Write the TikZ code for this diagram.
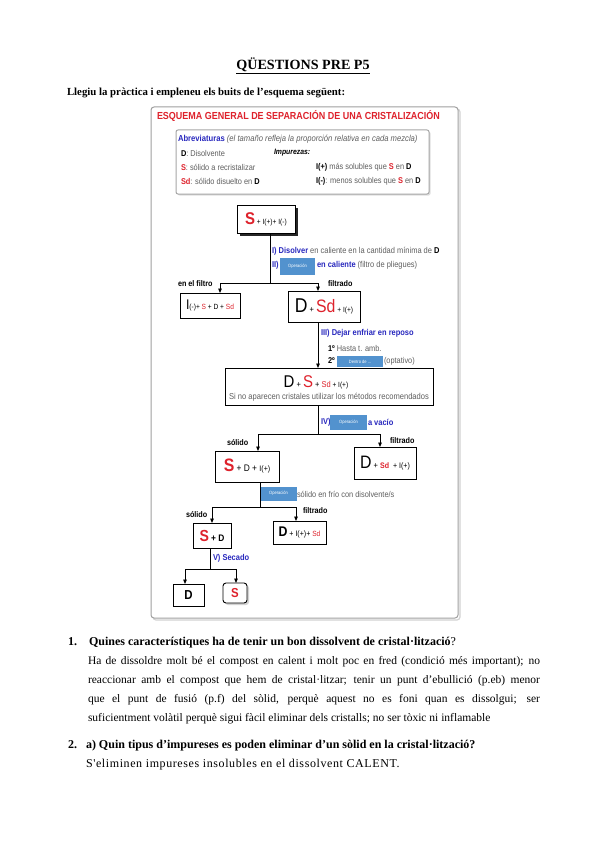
\documentclass[tikz,border=0pt]{standalone}
\usepackage{fontspec}
\setmainfont{Liberation Serif}
\newfontfamily\nar[FakeStretch=0.88]{Liberation Sans}
\newfontfamily\spaced[LetterSpace=5]{Liberation Serif}
\usetikzlibrary{arrows.meta,shadows}
\definecolor{rd}{RGB}{222,34,44}
\definecolor{bl}{RGB}{40,40,190}
\definecolor{opb}{RGB}{82,146,206}
\definecolor{gy}{RGB}{95,95,95}
\begin{document}
\begin{tikzpicture}[x=1pt,y=-1pt,
  every node/.style={inner sep=0pt, outer sep=0pt},
  t/.style={font=\nar\fontsize{8.4}{9}\selectfont, anchor=west, text=gy},
  tb/.style={font=\nar\bfseries\fontsize{8.2}{9}\selectfont, anchor=west, text=black},
  tblue/.style={font=\nar\bfseries\fontsize{8.5}{9}\selectfont, anchor=west, text=bl},
  bx/.style={draw=black, line width=0.9pt, fill=white, font=\nar},
  ln/.style={draw=black, line width=0.9pt},
  arr/.style={draw=black, line width=0.9pt, -{Triangle[length=4.5pt,width=3.6pt]}},
  opbox/.style={fill=opb, text=white, font=\nar\fontsize{4.6}{5}\selectfont},
  body/.style={font=\fontsize{11.5}{19.3}\selectfont},
  bodyb/.style={font=\bfseries\fontsize{12}{19.3}\selectfont}]
\useasboundingbox[fill=white] (0,0) rectangle (599,848);

% header
\node[font=\bfseries\fontsize{14.1}{15}\selectfont] (title) at (303,66) {\underline{QÜESTIONS PRE P5}};
\node[anchor=base west, font=\bfseries\fontsize{10.8}{12}\selectfont] (intro) at (67,96) {Llegiu la pràctica i empleneu els buits de l'esquema següent:};

% outer frame
\draw[gray!35, line width=1.2pt, rounded corners=3pt] (153,109) rectangle (460,620);
\draw[gray!75, line width=1pt, rounded corners=3pt, fill=white] (151,107) rectangle (458,618);
\node[anchor=west, text=rd, font=\nar\bfseries\fontsize{10.2}{12}\selectfont] (etitle) at (157,116) {ESQUEMA GENERAL DE SEPARACIÓN DE UNA CRISTALIZACIÓN};

% abbreviation box
\node[draw=gray!70, line width=1pt, rounded corners=2pt, fill=white, minimum width=253pt, minimum height=64pt,
      drop shadow={shadow xshift=1.5pt, shadow yshift=-1.5pt, fill=gray!50}] (abr) at (302.5,162) {};
\node[anchor=west, font=\nar\fontsize{8.7}{9}\selectfont] (abr1) at (178,139) {\textcolor{bl}{\bfseries Abreviaturas} \textcolor{gy}{\itshape (el tamaño refleja la proporción relativa en cada mezcla)}};
\node[t] (abr2) at (181,153) {\textcolor{black}{\bfseries D}: Disolvente};
\node[anchor=west, font=\nar\bfseries\itshape\fontsize{7.8}{9}\selectfont] (abr3) at (274,153) {Impurezas:};
\node[t] (abr4) at (181,167) {\textcolor{rd}{\bfseries S}: sólido a recristalizar};
\node[t] (abr5) at (181,181) {\textcolor{rd}{\bfseries Sd}: sólido disuelto en \textcolor{black}{\bfseries D}};
\node[t] (abr6) at (316,167) {\textcolor{black}{\bfseries I(+)} más solubles que \textcolor{rd}{\bfseries S} en \textcolor{black}{\bfseries D}};
\node[t] (abr7) at (316,181) {\textcolor{black}{\bfseries I(-)}: menos solubles que \textcolor{rd}{\bfseries S} en \textcolor{black}{\bfseries D}};

% box 1
\node[bx, minimum width=58pt, minimum height=28pt, drop shadow={shadow xshift=2.6pt, shadow yshift=-2.6pt, fill=black, opacity=0.85}] (b1) at (266,219)
  {\textcolor{rd}{\bfseries\fontsize{17}{17}\selectfont S}\,{\fontsize{7.5}{8}\selectfont + I(+)+ I(-)}};

\coordinate (t1) at (270,283);
\coordinate (L1) at (220,283);
\coordinate (R1) at (318,283);
\draw[ln] (b1.south -| t1) -- (t1);
\draw[ln] (L1) -- (R1);

\node[tblue] (s1) at (272,251) {I) Disolver\textcolor{gy}{\mdseries\ en caliente en la cantidad mínima de} \textcolor{black}{D}};
\node[tblue] (s2) at (272,265) {II)};
\node[opbox, minimum width=35pt, minimum height=17pt] (op1) at (297.5,266) {Operación};
\node[tblue] (s2b) at (317,265) {en caliente \textcolor{gy}{\mdseries (filtro de pliegues)}};

\node[tb] (enf) at (178,284) {en el filtro};
\node[tb] (fil1) at (328,284) {filtrado};

\node[bx, minimum width=60pt, minimum height=25pt] (lb) at (210,305.5)
  {{\fontsize{14}{14}\selectfont I}{\fontsize{7.5}{8}\selectfont (-)+ \textcolor{rd}{S} + D + \textcolor{rd}{Sd}}};
\node[bx, minimum width=72pt, minimum height=31pt] (rb) at (324,306.5)
  {{\fontsize{20}{20}\selectfont D}{\fontsize{8.5}{8}\selectfont\ + }\textcolor{rd}{\fontsize{18}{18}\selectfont Sd}{\fontsize{7.5}{8}\selectfont\ + I(+)}};
\draw[arr] (L1) -- (lb.north -| L1);
\draw[arr] (R1) -- (rb.north -| R1);

\node[tblue] (s3) at (321,333) {III) Dejar enfriar en reposo};
\node[t, text=black] (s3a) at (328,348) {\bfseries 1º \mdseries\textcolor{gy}{Hasta t. amb.}};
\node[t, text=black] (s3b) at (328,361) {\bfseries 2º};
\node[opbox, minimum width=46pt, minimum height=11pt] (op2) at (360,361.5) {Dentro de ...};
\node[t] (s3c) at (384,361) {(optativo)};

\node[bx, minimum width=208pt, minimum height=37pt] (bb) at (329,386.5) {};
\node[font=\nar] (bbt1) at (316,382) {{\fontsize{17}{17}\selectfont D}{\fontsize{8.5}{8}\selectfont\ + }\textcolor{rd}{\fontsize{17}{17}\selectfont S}{\fontsize{8.5}{8}\selectfont\ + }\textcolor{rd}{\fontsize{8.5}{8}\selectfont Sd}{\fontsize{7.5}{8}\selectfont\ + I(+)}};
\node[font=\nar\fontsize{8.6}{9}\selectfont, text=gy] (bbt2) at (329,397.5) {Si no aparecen cristales utilizar los métodos recomendados};
\draw[arr] (rb.south -| R1) -- (bb.north -| R1);

\coordinate (t3) at (318,434);
\coordinate (L3) at (258,434);
\coordinate (R3) at (380,434);
\draw[ln] (bb.south -| t3) -- (t3);
\draw[ln] (L3) -- (R3);
\node[tblue] (s4) at (321,422) {IV)};
\node[opbox, minimum width=37pt, minimum height=15pt] (op3) at (348.5,422.5) {Operación};
\node[tblue] (s4b) at (368,422) {a vacío};
\node[tb] (sol1) at (227,443) {sólido};
\node[tb] (fil2) at (390,441) {filtrado};

\node[bx, minimum width=64pt, minimum height=31pt] (sb) at (247,466.5)
  {\textcolor{rd}{\bfseries\fontsize{18}{18}\selectfont S}{\fontsize{9.5}{9}\selectfont\ + D + }{\fontsize{8}{8}\selectfont I(+)}};
\node[bx, minimum width=62pt, minimum height=32pt] (fb) at (385,463)
  {{\fontsize{18}{18}\selectfont D}{\fontsize{8.5}{8}\selectfont\ + }\textcolor{rd}{\bfseries\fontsize{8}{8}\selectfont Sd}{\fontsize{8}{8}\selectfont\ \ + I(+)}};
\draw[arr] (L3) -- (sb.north -| L3);
\draw[arr] (R3) -- (fb.north -| R3);

\coordinate (t4) at (260,507);
\coordinate (L4) at (212,507);
\coordinate (R4) at (296,507);
\draw[ln] (sb.south -| t4) -- (t4);
\draw[ln] (L4) -- (R4);
\node[opbox, minimum width=36pt, minimum height=14pt] (op4) at (278.5,493.5) {Operación};
\node[t] (s5) at (297,494) {sólido en frío con disolvente/s};
\node[tb] (sol2) at (186,515) {sólido};
\node[tb] (fil3) at (303,511) {filtrado};

\node[bx, minimum width=38pt, minimum height=25pt] (sd) at (212,535.5)
  {\textcolor{rd}{\bfseries\fontsize{16}{16}\selectfont S}{\bfseries\fontsize{9.5}{9}\selectfont\ + D}};
\node[bx, minimum width=53pt, minimum height=23pt] (fd) at (299.5,532.5)
  {{\bfseries\fontsize{14}{14}\selectfont D}{\fontsize{8}{8}\selectfont\ + I(+)+ }\textcolor{rd}{\fontsize{7.5}{8}\selectfont Sd}};
\draw[arr] (L4) -- (sd.north -| L4);
\draw[arr] (R4) -- (fd.north -| R4);

\coordinate (t5) at (210,569);
\coordinate (L5) at (185,569);
\coordinate (R5) at (236,569);
\draw[ln] (sd.south -| t5) -- (t5);
\draw[ln] (L5) -- (R5);
\node[tblue] (s6) at (213,558) {V) Secado};

\node[bx, minimum width=31pt, minimum height=22pt] (dd) at (188.5,595)
  {\bfseries\fontsize{13}{13}\selectfont D};
\node[bx, rounded corners=3pt, minimum width=24pt, minimum height=20pt,
      drop shadow={shadow xshift=2pt, shadow yshift=-2pt, fill=gray!70}] (ss) at (235,593)
  {\textcolor{rd}{\bfseries\fontsize{13}{13}\selectfont S}};
\draw[arr] (L5) -- (dd.north -| L5);
\draw[arr] (R5) -- (ss.north -| R5);

% questions
\node[bodyb, anchor=base west] (q1n) at (68,645) {1.};
\node[bodyb, anchor=base west] (q1) at (89,645) {Quines característiques ha de tenir un bon dissolvent de cristal·lització\mdseries ?};
\node[body, anchor=base west, text width=452pt, align=justify] (a1) at (88,664)
  {Ha de dissoldre molt bé el compost en calent i molt poc en fred (condició més important); no\linebreak
   reaccionar amb el compost que hem de cristal·litzar; tenir un punt d'ebullició (p.eb) menor\linebreak
   que el punt de fusió (p.f) del sòlid, perquè aquest no es foni quan es dissolgui; ser\linebreak
   suficientment volàtil perquè sigui fàcil eliminar dels cristalls; no ser tòxic ni inflamable};
\node[bodyb, anchor=base west] (q2n) at (68,748) {2.};
\node[bodyb, anchor=base west] (q2) at (86,748) {a) Quin tipus d'impureses es poden eliminar d'un sòlid en la cristal·lització?};
\node[anchor=base west, font=\spaced\fontsize{12}{14}\selectfont] (a2) at (86,767) {S'eliminen impureses insolubles en el dissolvent CALENT.};
\end{tikzpicture}
\end{document}
